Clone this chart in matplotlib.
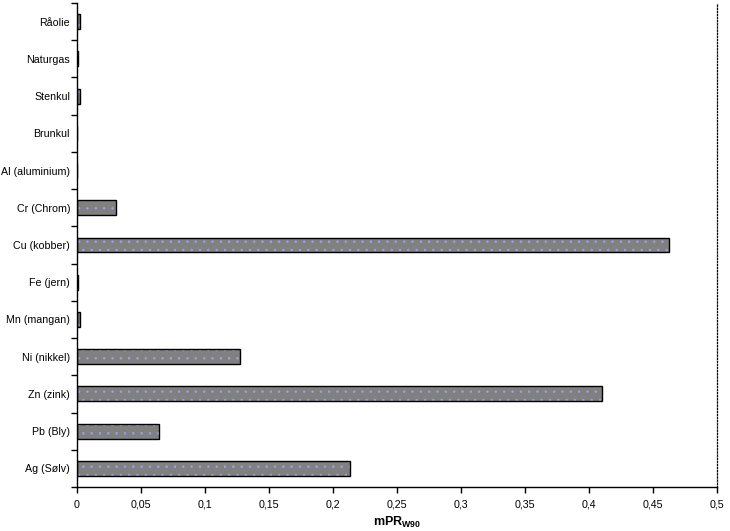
import numpy as np
import matplotlib
matplotlib.use("Agg")
import matplotlib.pyplot as plt
from matplotlib.ticker import FixedLocator, FuncFormatter

plt.rcParams['font.family'] = ['Liberation Sans', 'DejaVu Sans']
plt.rcParams['mathtext.fontset'] = 'custom'
plt.rcParams['mathtext.bf'] = 'Liberation Sans:bold'
plt.rcParams['mathtext.rm'] = 'Liberation Sans'
plt.rcParams['hatch.linewidth'] = 0.5

# data, top to bottom as in the chart
categories = ['Råolie', 'Naturgas', 'Stenkul', 'Brunkul', 'Al (aluminium)',
              'Cr (Chrom)', 'Cu (kobber)', 'Fe (jern)', 'Mn (mangan)',
              'Ni (nikkel)', 'Zn (zink)', 'Pb (Bly)', 'Ag (Sølv)']
values = [0.0025, 0.0007, 0.0025, 0.0, 0.0,
          0.0305, 0.4625, 0.001, 0.002,
          0.127, 0.410, 0.064, 0.213]

fig = plt.figure(figsize=(7.3, 5.31), dpi=100)
ax = fig.add_axes([77 / 730, 1 - 487 / 531, 640 / 730, 484 / 531])

n = len(categories)
y = np.arange(n)[::-1]

# fill with dotted pattern, then black outline on top
ax.barh(y, values, height=0.4, color='#808080', edgecolor='#a0a0ec',
        hatch='..', linewidth=0)
ax.barh(y, values, height=0.4, facecolor='none', edgecolor='black',
        linewidth=1.0)

ax.set_xlim(0, 0.5)
ax.set_ylim(-0.5, n - 0.5)

xt = np.arange(0, 0.501, 0.05)
ax.set_xticks(xt)
ax.xaxis.set_major_formatter(FuncFormatter(
    lambda v, p: ('%g' % round(v, 2)).replace('.', ',')))

ax.set_yticks(y)
ax.set_yticklabels(categories)
ax.yaxis.set_minor_locator(FixedLocator(np.arange(-0.5, n, 1.0)))
ax.tick_params(axis='y', which='major', length=0, pad=5, labelsize=7.7)
ax.tick_params(axis='y', which='minor', length=4, width=1, direction='out')
ax.tick_params(axis='x', which='major', length=4, width=1, direction='out',
               pad=5, labelsize=7.7)

ax.spines['top'].set_visible(False)
ax.spines['right'].set_linestyle((0, (1, 1.5)))
ax.spines['right'].set_linewidth(0.9)
ax.spines['left'].set_linewidth(1)
ax.spines['bottom'].set_linewidth(1)

ax.set_xlabel(r'$\mathbf{mPR}_{\mathbf{W90}}$', fontsize=9, labelpad=4)

fig.savefig('out.png', dpi=100)
